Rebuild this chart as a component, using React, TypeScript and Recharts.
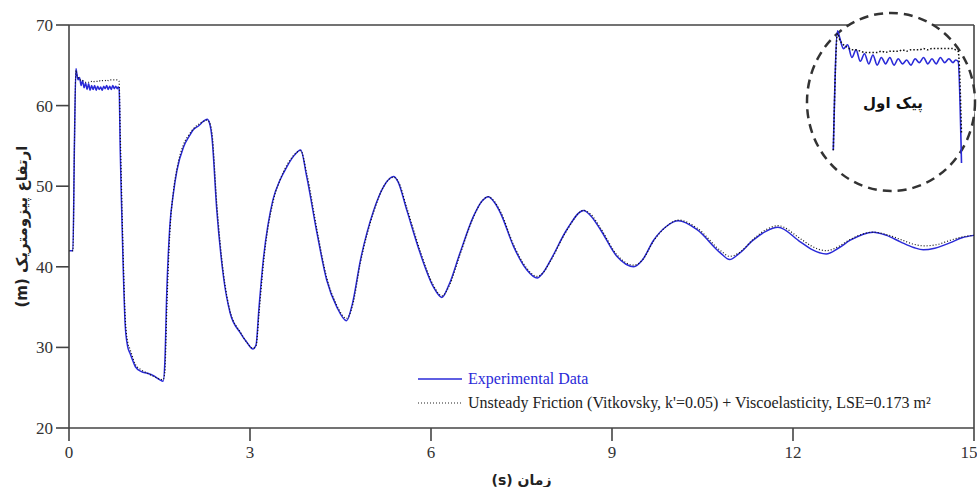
import React from "react";
import { LineChart, Line, XAxis, YAxis, ReferenceLine, Legend, Label } from "recharts";

// piezometric head (m) vs time (s)
const headTime = [0, 0.065];
const headExp = [42, 42];
const headModel = [42, 42];

// first peak (also shown zoomed in the circle)
const peakTime = [
  0.09, 0.115, 0.125, 0.15, 0.175, 0.2, 0.225, 0.25, 0.275, 0.3, 0.325, 0.35, 0.375, 0.4, 0.425, 0.45, 0.475,
  0.5, 0.525, 0.55, 0.575, 0.6, 0.625, 0.65, 0.675, 0.7, 0.725, 0.75, 0.775, 0.8, 0.815, 0.83, 0.85,
];
const peakExp = [
  55.2, 64.6, 64.2, 63.2, 63.5, 62.5, 63.1, 62.2, 62.8, 62.0, 62.7, 61.9, 62.5, 62.0, 62.5, 61.9, 62.4,
  62.0, 62.3, 61.9, 62.4, 62.1, 62.5, 62.0, 62.4, 62.0, 62.5, 62.1, 62.4, 62.1, 62.3, 62.2, 54.2,
];
const peakModel = [
  55.2, 64.4, 64.0, 63.5, 63.3, 63.1, 63.1, 63.0, 62.9, 62.9, 62.9, 62.9, 63.0, 62.9, 63.0, 63.0, 63.0,
  63.1, 63.0, 63.1, 63.1, 63.1, 63.2, 63.1, 63.2, 63.2, 63.2, 63.2, 63.2, 63.2, 63.1, 63.0, 56.5,
];

const tailTime = [
  0.87, 0.9, 0.93, 0.97, 1.01, 1.05, 1.1, 1.2, 1.3, 1.4, 1.5, 1.56, 1.59, 1.62, 1.67, 1.73, 1.79, 1.9, 2.0, 2.06,
  2.15, 2.22, 2.29, 2.33, 2.37, 2.45, 2.56, 2.67, 2.84, 2.95, 3.05, 3.1, 3.15, 3.22, 3.38, 3.5, 3.61, 3.72, 3.84,
  3.94, 4.11, 4.27, 4.44, 4.6, 4.7, 4.83, 5.05, 5.21, 5.38, 5.45, 5.6, 5.82, 6.04, 6.18, 6.3, 6.48, 6.7, 6.85,
  6.95, 7.05, 7.15, 7.37, 7.59, 7.76, 7.85, 7.98, 8.25, 8.53, 8.65, 8.81, 9.08, 9.36, 9.5, 9.69, 9.9, 10.1,
  10.41, 10.8, 10.95, 11.1, 11.34, 11.55, 11.75, 12.12, 12.3, 12.55, 12.75, 12.95, 13.33, 13.55, 13.78, 14.0,
  14.16, 14.35, 14.61, 14.8, 15.0,
];
const tailExp = [
  48.0, 39.5, 33.0, 30.2, 29.3, 28.5, 27.6, 27.0, 26.8, 26.5, 26.0, 25.8, 28.4, 36.7, 44.9, 49.1, 52.0, 54.9, 56.3, 57.0,
  57.5, 58.0, 58.3, 57.8, 56.0, 47.0, 38.8, 34.3, 31.8, 30.6, 29.8, 30.3, 35.0, 40.8, 48.3, 50.8, 52.4, 53.7, 54.5,
  51.2, 44.2, 38.4, 35.0, 33.3, 35.5, 40.8, 47.0, 49.9, 51.2, 50.6, 47.0, 41.7, 37.5, 36.2, 37.8, 41.7, 46.2, 48.2,
  48.7, 48.0, 46.7, 42.5, 39.6, 38.6, 39.2, 40.8, 44.6, 47.0, 46.3, 44.6, 41.3, 40.0, 40.8, 43.3, 45.0, 45.7,
  44.6, 41.7, 40.9, 41.6, 43.3, 44.4, 44.9, 43.1, 42.2, 41.6, 42.3, 43.3, 44.3, 43.9, 43.1, 42.4,
  42.1, 42.3, 43.0, 43.6, 43.9,
];
const tailModel = [
  50.0, 41.0, 34.0, 30.8, 29.8, 28.9, 27.9, 27.2, 26.8, 26.4, 26.1, 26.0, 27.0, 34.5, 44.0, 49.3, 52.2, 55.2, 56.5, 57.1,
  57.7, 58.0, 58.2, 57.9, 56.6, 47.8, 39.2, 34.5, 31.9, 30.6, 29.9, 30.2, 34.2, 40.2, 48.0, 50.8, 52.6, 53.8, 54.4,
  51.6, 44.6, 38.7, 35.2, 33.6, 35.2, 40.5, 46.8, 49.9, 51.1, 50.7, 47.3, 42.0, 37.7, 36.4, 37.6, 41.5, 46.1, 48.2,
  48.7, 48.1, 46.9, 42.7, 39.8, 38.8, 39.2, 40.7, 44.5, 47.0, 46.5, 44.8, 41.5, 40.2, 40.8, 43.2, 45.0, 45.8,
  44.8, 42.0, 41.3, 41.7, 43.4, 44.6, 45.1, 43.5, 42.6, 42.0, 42.5, 43.4, 44.3, 44.0, 43.4, 42.8,
  42.6, 42.7, 43.3, 43.7, 43.9,
];

const xTicks = [0, 3, 6, 9, 12, 15];
const yTicks = [20, 30, 40, 50, 60, 70];

const toRows = (t: number[], a: number[], b: number[]) =>
  t.map((x, i) => ({ t: x, exp: a[i], model: b[i] }));

const peakRows = toRows(peakTime, peakExp, peakModel);
const mainRows = [
  ...toRows(headTime, headExp, headModel),
  ...peakRows,
  ...toRows(tailTime, tailExp, tailModel),
];

const BLUE = "#2a2ad8";
const AXIS = "#444";
const serif = "'Liberation Serif', 'Times New Roman', serif";
const farsi = "'DejaVu Sans', sans-serif";

const XTick = (props: any) => {
  const { x, y, payload } = props;
  return (
    <text x={x} y={y} dy="0.75em" textAnchor="middle" fill="#333" style={{ fontFamily: serif, fontSize: 17 }}>
      {payload.value}
    </text>
  );
};

const YTick = (props: any) => {
  const { x, y, payload } = props;
  return (
    <text x={x} y={y} dy="0.35em" textAnchor="end" fill="#333" style={{ fontFamily: serif, fontSize: 17 }}>
      {payload.value}
    </text>
  );
};

const YTitle = (props: any) => {
  const vb = props.viewBox || { x: 9, y: 25, width: 60, height: 403 };
  const x = vb.x + 13;
  const y = vb.y + vb.height / 2;
  return (
    <text
      x={x}
      y={y}
      transform={`rotate(-90 ${x} ${y})`}
      textAnchor="middle"
      dominantBaseline="central"
      direction="rtl"
      style={{ direction: "rtl", unicodeBidi: "embed" }}
      fontFamily={farsi}
      fontWeight="bold"
      fontSize={15}
      fill="#222"
    >
      ارتفاع پیزومتریک (m)
    </text>
  );
};

const XTitle = (props: any) => {
  const vb = props.viewBox || { x: 69, y: 428, width: 905, height: 40 };
  return (
    <text
      x={vb.x + vb.width / 2}
      y={vb.y + 52}
      textAnchor="middle"
      dominantBaseline="central"
      direction="rtl"
      style={{ direction: "rtl", unicodeBidi: "embed" }}
      fontFamily={farsi}
      fontWeight="bold"
      fontSize={14}
      fill="#222"
    >
      زمان (s)
    </text>
  );
};

const renderLegend = (props: any) => {
  const { payload } = props;
  return (
    <div style={{ fontFamily: serif, fontSize: 16 }}>
      {(payload || []).map((entry: any, index: number) => {
        const dotted = entry.dataKey === "model";
        return (
          <div key={`item-${index}`} style={{ display: "flex", alignItems: "center", height: 24 }}>
            <svg width={52} height={10} style={{ marginRight: 3 }}>
              <line
                x1={5}
                y1={5}
                x2={49}
                y2={5}
                stroke={dotted ? "#222" : BLUE}
                strokeWidth={dotted ? 1.2 : 1.6}
                strokeDasharray={dotted ? "1 2" : undefined}
              />
            </svg>
            <span style={{ color: dotted ? "#222" : BLUE, whiteSpace: "nowrap" }}>{entry.value}</span>
          </div>
        );
      })}
    </div>
  );
};

export default function App() {
  return (
    <div
      style={{
        position: "absolute",
        left: 0,
        top: 0,
        width: 977,
        height: 487,
        background: "#fff",
        fontFamily: serif,
      }}
    >
      <LineChart width={977} height={487} data={mainRows} margin={{ top: 25, right: 3, bottom: 19, left: 9 }}>
        <XAxis
          dataKey="t"
          type="number"
          domain={[0, 15]}
          ticks={xTicks}
          height={40}
          tickSize={13}
          tickMargin={4}
          axisLine={{ stroke: AXIS, strokeWidth: 1.6 }}
          tickLine={{ stroke: AXIS, strokeWidth: 1.6 }}
          tick={XTick}
          allowDataOverflow
        >
          <Label content={XTitle} />
        </XAxis>
        <YAxis
          type="number"
          domain={[20, 70]}
          ticks={yTicks}
          width={60}
          tickSize={13}
          tickMargin={3}
          axisLine={{ stroke: AXIS, strokeWidth: 1.6 }}
          tickLine={{ stroke: AXIS, strokeWidth: 1.6 }}
          tick={YTick}
          allowDataOverflow
        >
          <Label content={YTitle} />
        </YAxis>
        <ReferenceLine y={70} stroke={AXIS} strokeWidth={1.6} />
        <ReferenceLine x={15} stroke={AXIS} strokeWidth={1.6} />
        <Line
          type="monotone"
          dataKey="exp"
          name="Experimental Data"
          stroke={BLUE}
          strokeWidth={1.5}
          dot={false}
          isAnimationActive={false}
        />
        <Line
          type="monotone"
          dataKey="model"
          name="Unsteady Friction (Vitkovsky, k'=0.05) + Viscoelasticity, LSE=0.173 m²"
          stroke="#111"
          strokeWidth={1.2}
          strokeDasharray="1 2"
          dot={false}
          isAnimationActive={false}
        />
        <Legend
          content={renderLegend}
          layout="vertical"
          align="center"
          verticalAlign="middle"
          wrapperStyle={{ left: 413, top: 367, width: 562 }}
        />
      </LineChart>

      {/* zoom circle on the first peak */}
      <svg width={977} height={487} style={{ position: "absolute", left: 0, top: 0, pointerEvents: "none" }}>
        <ellipse cx={891} cy={102} rx={84} ry={89} fill="#fff" stroke="#333" strokeWidth={2.5} strokeDasharray="9 6" />
        <text
          x={893}
          y={108}
          textAnchor="middle"
          direction="rtl"
          fontFamily={farsi}
          fontWeight="bold"
          fontSize={15}
          fill="#111"
        >
          پیک اول
        </text>
      </svg>
      <div style={{ position: "absolute", left: 808, top: 13 }}>
        <LineChart width={167} height={178} data={peakRows} margin={{ top: 0, right: 0, bottom: 0, left: 0 }}>
          <XAxis dataKey="t" type="number" domain={[-0.06, 0.93]} hide allowDataOverflow />
          <YAxis type="number" domain={[52, 66]} hide allowDataOverflow />
          <Line
            type="monotone"
            dataKey="exp"
            stroke={BLUE}
            strokeWidth={1.6}
            dot={false}
            isAnimationActive={false}
          />
          <Line
            type="monotone"
            dataKey="model"
            stroke="#111"
            strokeWidth={1.5}
            strokeDasharray="1.5 2"
            dot={false}
            isAnimationActive={false}
          />
        </LineChart>
      </div>
    </div>
  );
}
